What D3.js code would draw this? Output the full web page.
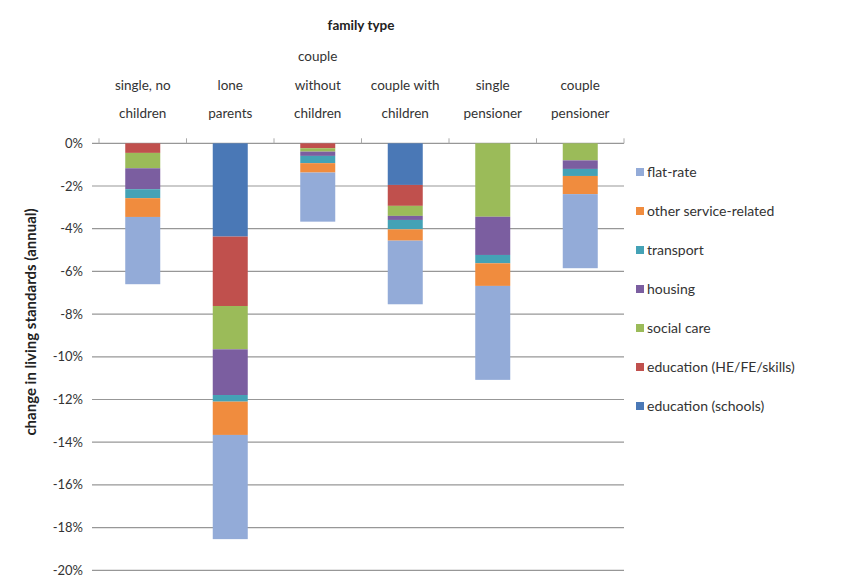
<!DOCTYPE html>
<html>
<head>
<meta charset="utf-8">
<script src="https://cdn.jsdelivr.net/npm/d3@7"></script>
<style>
  body { margin: 0; background: #fff; }
  text { font-family: Lato, "Open Sans", sans-serif; }
</style>
</head>
<body>
<div class="chart"></div>
<script>
  // family types (category labels split into lines)
  const categories = [
      "single, no\nchildren",
      "lone\nparents",
      "couple\nwithout\nchildren",
      "couple with\nchildren",
      "single\npensioner",
      "couple\npensioner"
  ];

  // stacking order from 0% downwards
  const seriesNames = [
      "education (schools)",
      "education (HE/FE/skills)",
      "social care",
      "housing",
      "transport",
      "other service-related",
      "flat-rate"
  ];

  // change in living standards, % (one array per series, same order as categories)
  const schools   = [0,     -4.37, 0,     -1.95, 0,     0];
  const heFe      = [-0.45, -3.25, -0.23, -0.98, 0,     0];
  const socialCare= [-0.72, -2.03, -0.16, -0.47, -3.44, -0.80];
  const housing   = [-0.98, -2.14, -0.20, -0.19, -1.79, -0.40];
  const transport = [-0.42, -0.31, -0.34, -0.44, -0.39, -0.33];
  const otherSvc  = [-0.88, -1.56, -0.44, -0.53, -1.06, -0.85];
  const flatRate  = [-3.15, -4.88, -2.30, -2.98, -4.40, -3.47];

  const yTicks = [0, -2, -4, -6, -8, -10, -12, -14, -16, -18, -20];

  const colors = {
      "education (schools)": "#4a78b6",
      "education (HE/FE/skills)": "#c0504d",
      "social care": "#9bbb59",
      "housing": "#7b5ea0",
      "transport": "#44a2b6",
      "other service-related": "#f08c3e",
      "flat-rate": "#93abd8"
  };

  const seriesValues = [schools, heFe, socialCare, housing, transport, otherSvc, flatRate];

  const rows = categories.map((c, i) => {
      const r = {category: c};
      seriesNames.forEach((s, j) => { r[s] = seriesValues[j][i]; });
      return r;
  });

  const width = 844;
  const height = 577;
  const svg = d3.select('.chart')
      .append('svg')
      .attr('width', width)
      .attr('height', height);

  const x = d3.scaleBand()
      .domain(categories)
      .range([99, 624])
      .paddingInner(0.6)
      .paddingOuter(0.3);

  const y = d3.scaleLinear()
      .domain([0, -20])
      .range([143.3, 570.3]);

  // gridlines
  svg.append('g')
      .selectAll('line')
      .data(yTicks)
      .enter().append('line')
      .attr('x1', 92)
      .attr('x2', 624)
      .attr('y1', d => y(d))
      .attr('y2', d => y(d))
      .attr('stroke', '#979797')
      .attr('stroke-width', 1.2);

  // y tick labels
  svg.append('g')
      .selectAll('text')
      .data(yTicks)
      .enter().append('text')
      .attr('x', 83)
      .attr('y', d => y(d))
      .attr('dy', '0.35em')
      .attr('text-anchor', 'end')
      .attr('font-size', '13px')
      .attr('fill', '#333')
      .text(d => d + '%');

  // category tick marks on the top axis
  const bounds = categories.map(c => x(c) - x.step() * x.paddingInner() / 2)
      .concat([x.range()[1]]);
  svg.append('g')
      .selectAll('line')
      .data(bounds)
      .enter().append('line')
      .attr('x1', d => d)
      .attr('x2', d => d)
      .attr('y1', y(0) - 5)
      .attr('y2', y(0))
      .attr('stroke', '#aaa');

  // stacked bars (negative values stack downward from 0%)
  const stack = d3.stack()
      .keys(seriesNames)
      .offset(d3.stackOffsetDiverging);
  const stacked = stack(rows);

  svg.append('g')
      .selectAll('g')
      .data(stacked)
      .enter().append('g')
      .attr('fill', d => colors[d.key])
      .selectAll('rect')
      .data(d => d)
      .enter().append('rect')
      .attr('x', d => x(d.data.category))
      .attr('width', x.bandwidth())
      .attr('y', d => Math.min(y(d[0]), y(d[1])))
      .attr('height', d => Math.abs(y(d[1]) - y(d[0])));

  // category labels (above the plot)
  const catLabels = svg.append('g')
      .selectAll('text')
      .data(categories)
      .enter().append('text')
      .attr('text-anchor', 'middle')
      .attr('font-size', '13.5px')
      .attr('fill', '#333');
  catLabels.each(function(d) {
      const lines = d.split('\n');
      const t = d3.select(this);
      lines.forEach((ln, i) => {
          t.append('tspan')
              .attr('x', x(d) + x.bandwidth() / 2)
              .attr('y', 118 - (lines.length - 1 - i) * 28.5)
              .text(ln);
      });
  });

  // axis title on top
  svg.append('text')
      .attr('x', 361)
      .attr('y', 30)
      .attr('text-anchor', 'middle')
      .attr('font-size', '13.5px')
      .attr('font-weight', 'bold')
      .attr('fill', '#222')
      .text('family type');

  // y axis title
  svg.append('text')
      .attr('transform', 'translate(36,322) rotate(-90)')
      .attr('text-anchor', 'middle')
      .attr('font-size', '15px')
      .attr('font-weight', 'bold')
      .attr('fill', '#222')
      .text('change in living standards (annual)');

  // legend (reverse order, flat-rate first)
  const legend = svg.append('g')
      .selectAll('g')
      .data(seriesNames.slice().reverse())
      .enter().append('g')
      .attr('transform', (d, i) => `translate(636,${172 + i * 39})`);
  legend.append('rect')
      .attr('x', 0)
      .attr('y', -4)
      .attr('width', 8)
      .attr('height', 8)
      .attr('fill', d => colors[d]);
  legend.append('text')
      .attr('x', 11)
      .attr('dy', '0.35em')
      .attr('font-size', '14px')
      .attr('fill', '#333')
      .text(d => d);
</script>
</body>
</html>
